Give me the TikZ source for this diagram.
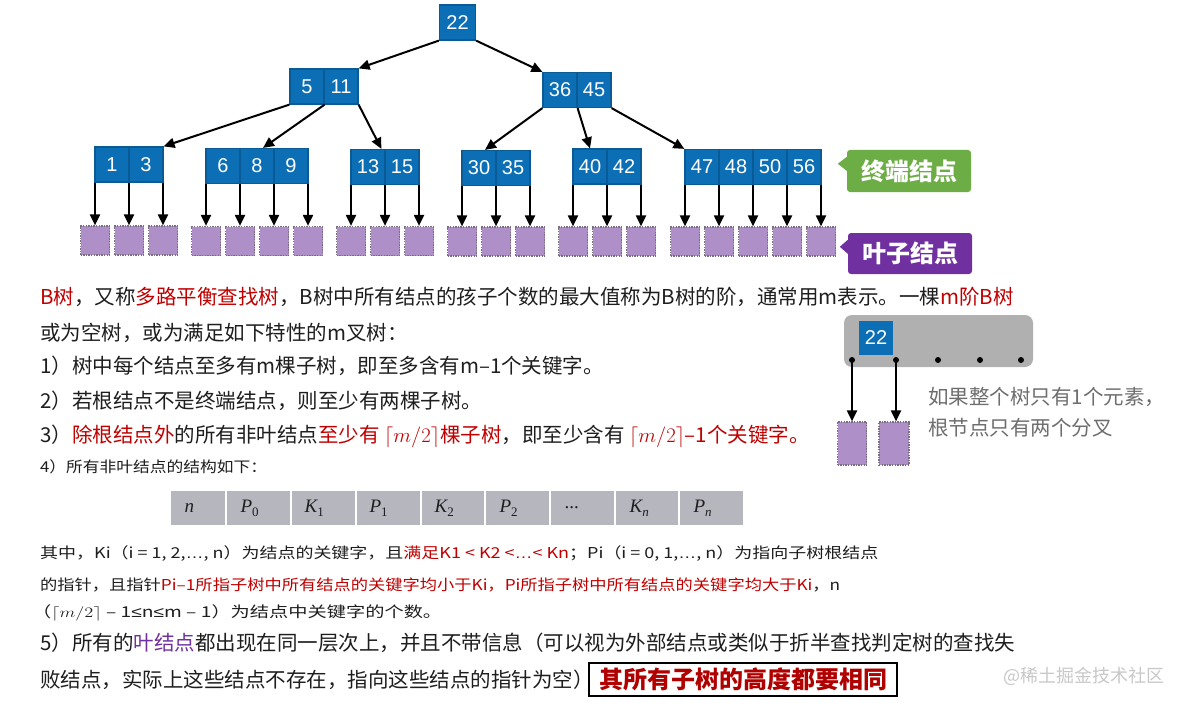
\documentclass[tikz,border=0pt]{standalone}
\usepackage[no-math]{fontspec}
\setmainfont{Noto Sans CJK SC}
\newfontfamily\numfont{Liberation Sans}
\newfontfamily\tmsfont{Liberation Serif}
\usepackage{graphicx}
\usetikzlibrary{arrows.meta}
\definecolor{cellblue}{HTML}{0C6FB5}
\definecolor{cellborder}{HTML}{0A5A96}
\definecolor{leafpurple}{HTML}{AF8FC8}
\definecolor{leafborder}{HTML}{7A6D84}
\definecolor{calgreen}{HTML}{6DAD46}
\definecolor{calpurple}{HTML}{7030A0}
\definecolor{tred}{HTML}{C00000}
\definecolor{tpurp}{HTML}{7030A0}
\definecolor{textc}{HTML}{1E1E1E}
\definecolor{grayrect}{HTML}{B0B0B0}
\definecolor{tgray}{HTML}{B6B6BF}
\definecolor{notegray}{HTML}{6E6E6E}
\definecolor{wmgray}{HTML}{C8C8C8}
\definecolor{boxred}{HTML}{B00000}
\newcommand\rtxt[1]{\textcolor{tred}{#1}}
\newcommand\ptxt[1]{\textcolor{tpurp}{#1}}
\newcommand\lat[1]{{\numfont #1}}
\newcommand\tI[1]{{\tmsfont\itshape #1}}
\newcommand\tsub[1]{\raisebox{-4pt}{\fontsize{13}{13}\selectfont #1}}
\tikzset{
  cell/.style={draw=cellborder, fill=cellblue, line width=1.2pt, minimum width=34pt, minimum height=35pt, inner sep=0pt, text=white, font=\numfont\fontsize{20}{20}\selectfont},
  leaf/.style={draw=leafborder, fill=leafpurple, dash pattern=on 1.4pt off 1.2pt, line width=1.2pt, minimum width=29pt, minimum height=29pt, inner sep=0pt},
  arr/.style={line width=2pt, -{Triangle[length=11pt,width=10pt]}},
  txt/.style={anchor=west, inner sep=0pt, text=textc, font=\fontsize{20.5}{20.5}\selectfont},
  smalltxt/.style={anchor=west, inner sep=0pt, text=textc, font=\fontsize{15}{15}\selectfont},
  callout/.style={fill=#1, rounded corners=3pt, minimum width=124pt, minimum height=42pt, inner sep=0pt, text=white, font=\bfseries\fontsize{24}{24}\selectfont},
  tcell/.style={fill=tgray, draw=white, line width=1.2pt, minimum height=36pt, inner sep=0pt},
  ttext/.style={anchor=west, inner sep=0pt, text=textc, font=\tmsfont\fontsize{19}{19}\selectfont},
  dotn/.style={circle, fill=black, minimum size=6pt, inner sep=0pt},
}
\begin{document}
\begin{tikzpicture}[x=1pt, y=-1pt]
\useasboundingbox (0,0) rectangle (1183,706);
\fill[white] (0,0) rectangle (1183,706);

% ---------- tree ----------
\node[cell, minimum width=36pt] (r) at (457.5,22.5) {22};
\node[cell] (a1) at (307,86.5) {5};
\node[cell] (a2) at (341,86.5) {11};
\node[cell] (b1) at (560,90) {36};
\node[cell] (b2) at (594,90) {45};
% level 3
\foreach \t [count=\i] in {1,3} \node[cell] (c\i) at ({95+17+34*(\i-1)},164.5) {\t};
\foreach \t [count=\i] in {6,8,9} \node[cell] (d\i) at ({206+17+34*(\i-1)},166) {\t};
\foreach \t [count=\i] in {13,15} \node[cell] (e\i) at ({351+17+34*(\i-1)},167) {\t};
\foreach \t [count=\i] in {30,35} \node[cell] (f\i) at ({462+17+34*(\i-1)},168) {\t};
\foreach \t [count=\i] in {40,42} \node[cell] (g\i) at ({573+17+34*(\i-1)},166.5) {\t};
\foreach \t [count=\i] in {47,48,50,56} \node[cell] (h\i) at ({685+17+34*(\i-1)},167) {\t};
% leaves
\foreach \k in {0,...,2} {\node[leaf] (lc\k) at ({95+34*\k},240.5) {}; \draw[arr] (lc\k.north |- c1.south) -- (lc\k.north);}
\foreach \k in {0,...,3} {\node[leaf] (ld\k) at ({206+34*\k},241) {}; \draw[arr] (ld\k.north |- d1.south) -- (ld\k.north);}
\foreach \k in {0,...,2} {\node[leaf] (le\k) at ({351+34*\k},241) {}; \draw[arr] (le\k.north |- e1.south) -- (le\k.north);}
\foreach \k in {0,...,2} {\node[leaf] (lf\k) at ({462+34*\k},241.5) {}; \draw[arr] (lf\k.north |- f1.south) -- (lf\k.north);}
\foreach \k in {0,...,2} {\node[leaf] (lg\k) at ({573+34*\k},241.5) {}; \draw[arr] (lg\k.north |- g1.south) -- (lg\k.north);}
\foreach \k in {0,...,4} {\node[leaf] (lh\k) at ({685+34*\k},241.5) {}; \draw[arr] (lh\k.north |- h1.south) -- (lh\k.north);}
% level connectors
\draw[arr] (r.south west) -- (a2.north east);
\draw[arr] (r.south east) -- (b1.north west);
\draw[arr] (a1.south west) -- (c2.north east);
\draw[arr] (a1.south east) -- ([xshift=6pt]d2.north);
\draw[arr] (a2.south east) -- ([xshift=-3pt]e2.north west);
\draw[arr] (b1.south west) -- ([xshift=6pt]f1.north);
\draw[arr] (b1.south east) -- (g1.north);
\draw[arr] (b2.south east) -- (h1.north west);

% ---------- callouts ----------
\node[callout=calgreen] (cg) at (909,171) {终端结点};
\fill[calgreen] ([yshift=-7pt]cg.north west) -- ([xshift=-9pt,yshift=-14pt]cg.north west) -- ([yshift=-21pt]cg.north west) -- cycle;
\node[callout=calpurple, minimum height=41pt] (cp) at (910,253.5) {叶子结点};
\fill[calpurple] ([yshift=-7pt]cp.north west) -- ([xshift=-8pt,yshift=-14pt]cp.north west) -- ([yshift=-21pt]cp.north west) -- cycle;

% ---------- text ----------
\node[txt] (t1) at (40,297) {\rtxt{B树}，又称\rtxt{多路平衡查找树}，B树中所有结点的孩子个数的最大值称为B树的阶，通常用m表示。一棵\rtxt{m阶B树}};
\node[txt] (t2) at (40,333) {或为空树，或为满足如下特性的m叉树：};
\node[txt] (t3) at (40,366) {1）树中每个结点至多有m棵子树，即至多含有m–1个关键字。};
\node[txt] (t4) at (40,401) {2）若根结点不是终端结点，则至少有两棵子树。};
\node[txt] (t5) at (40,436) {3）\rtxt{除根结点外}的所有非叶结点\rtxt{至少有 $\lceil m/2\rceil$棵子树}，即至少含有 \rtxt{$\lceil m/2\rceil$–1个关键字。}};
\node[smalltxt] (t6) at (40,467) {\resizebox{227pt}{\height}{4）所有非叶结点的结构如下：}};

% ---------- table ----------
\node[tcell, minimum width=56pt] (tb0) at (198,508) {};
\node[tcell, minimum width=65pt] (tb1) at (258.5,508) {};
\node[tcell, minimum width=65pt] (tb2) at (323.5,508) {};
\node[tcell, minimum width=65pt] (tb3) at (388.5,508) {};
\node[tcell, minimum width=64pt] (tb4) at (453,508) {};
\node[tcell, minimum width=65pt] (tb5) at (517.5,508) {};
\node[tcell, minimum width=65pt] (tb6) at (582.5,508) {};
\node[tcell, minimum width=64pt] (tb7) at (647,508) {};
\node[tcell, minimum width=65pt] (tb8) at (711.5,508) {};
\node[ttext] (tt0) at ([xshift=15pt]tb0.west) {\tI{n}};
\node[ttext] (tt1) at ([xshift=15pt]tb1.west) {\tI{P}\tsub{0}};
\node[ttext] (tt2) at ([xshift=14pt]tb2.west) {\tI{K}\tsub{1}};
\node[ttext] (tt3) at ([xshift=14pt]tb3.west) {\tI{P}\tsub{1}};
\node[ttext] (tt4) at ([xshift=14pt]tb4.west) {\tI{K}\tsub{2}};
\node[ttext] (tt5) at ([xshift=15pt]tb5.west) {\tI{P}\tsub{2}};
\node[ttext] (tt6) at ([xshift=15pt]tb6.west) {...};
\node[ttext] (tt7) at ([xshift=15pt]tb7.west) {\tI{K}\tsub{\tI{n}}};
\node[ttext] (tt8) at ([xshift=15pt]tb8.west) {\tI{P}\tsub{\tI{n}}};

% ---------- paragraph ----------
\node[smalltxt] (p1) at (40,553) {\resizebox{838pt}{\height}{其中，Ki（i = 1, 2,\lat{…}, n）为结点的关键字，且\rtxt{满足K1 < K2 <\lat{…}< Kn}；Pi（i = 0, 1,\lat{…}, n）为指向子树根结点}};
\node[smalltxt] (p2) at (40,585) {\resizebox{800pt}{\height}{的指针，且指针\rtxt{Pi–1所指子树中所有结点的关键字均小于Ki，Pi所指子树中所有结点的关键字均大于Ki}，n}};
\node[smalltxt] (p3) at (32,613) {\resizebox{410pt}{\height}{（$\lceil m/2\rceil$ – 1\lat{≤}n\lat{≤}m – 1）为结点中关键字的个数。}};

\node[txt] (t7) at (40,643) {5）所有的\ptxt{叶结点}都出现在同一层次上，并且不带信息（可以视为外部结点或类似于折半查找判定树的查找失};
\node[txt] (t8) at (40,680) {败结点，实际上这些结点不存在，指向这些结点的指针为空）};
\node[draw=black, line width=1.2pt, minimum width=308pt, minimum height=33pt, inner sep=0pt, text=boxred, font=\bfseries\fontsize{24}{24}\selectfont] (hb) at (743,679.5) {其所有子树的高度都要相同};
\node[anchor=west, inner sep=0pt, text=wmgray, font=\fontsize{18}{18}\selectfont] (wm) at (1003,676) {@稀土掘金技术社区};

% ---------- small diagram ----------
\node[fill=grayrect, rounded corners=8pt, minimum width=189pt, minimum height=52pt, inner sep=0pt] (gb) at (938.5,341) {};
\node[fill=cellblue, minimum width=34pt, minimum height=34pt, inner sep=0pt, text=white, font=\numfont\fontsize{20}{20}\selectfont] (s22) at (876,338) {22};
\node[dotn] (q1) at (852,360) {};
\node[dotn] (q2) at (896,360) {};
\node[dotn] (q3) at (938,360) {};
\node[dotn] (q4) at (980,360) {};
\node[dotn] (q5) at (1021,360) {};
\node[leaf, minimum width=29pt, minimum height=43pt] (sl1) at (852,443.5) {};
\node[leaf, minimum width=30pt, minimum height=43pt] (sl2) at (894,443.5) {};
\draw[arr] (q1.center) -- (q1.center |- sl1.north);
\draw[arr] (q2.center) -- (q2.center |- sl2.north);
\node[txt, text=notegray] (n1) at (928,397) {如果整个树只有1个元素，};
\node[txt, text=notegray] (n2) at (928,428) {根节点只有两个分叉};
\end{tikzpicture}
\end{document}
